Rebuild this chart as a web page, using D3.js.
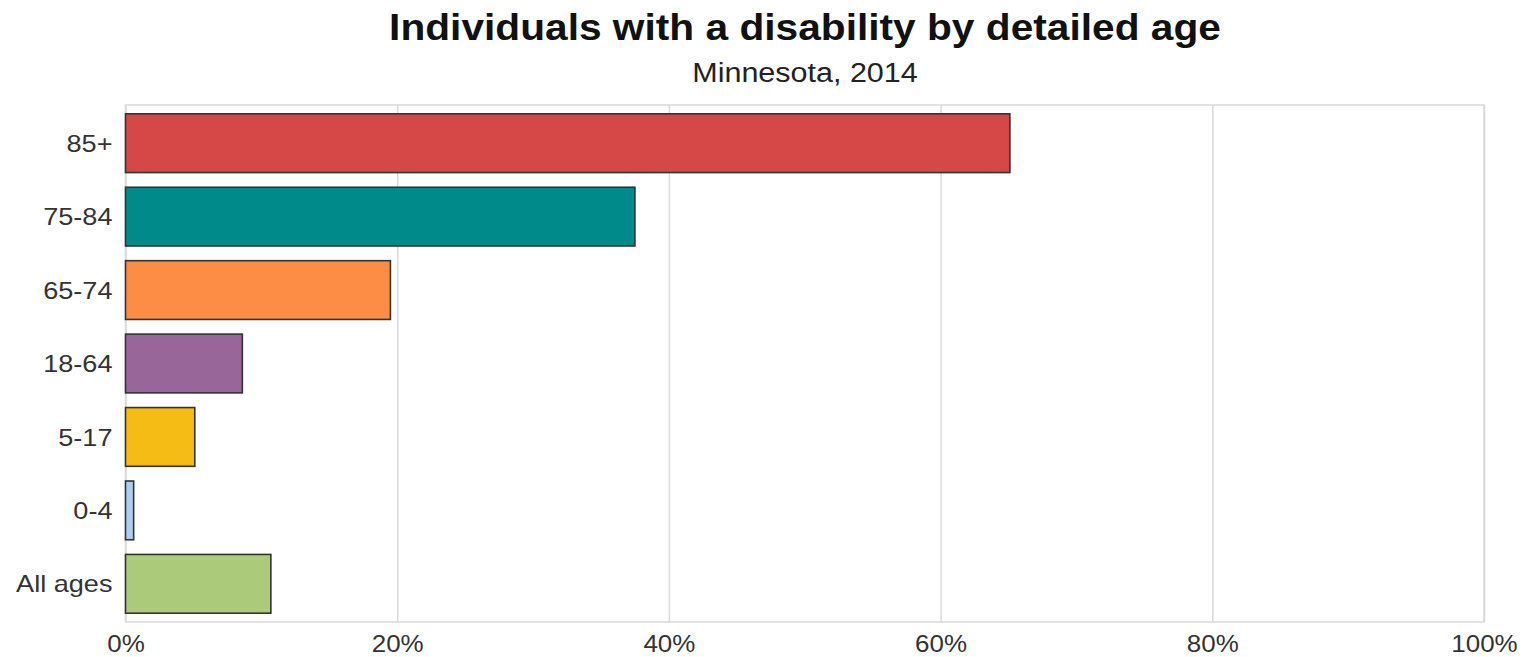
<!DOCTYPE html>
<html>
<head>
<meta charset="utf-8">
<script src="https://cdn.jsdelivr.net/npm/d3@7"></script>
<style>
  html, body { margin: 0; padding: 0; background: #fff; }
  svg { display: block; font-family: "Liberation Sans", Arial, sans-serif; }
</style>
</head>
<body>
<svg id="chart" width="1528" height="657"></svg>
<script>
// Share of individuals with a disability, by age group (percent)
const ageGroups = ["85+", "75-84", "65-74", "18-64", "5-17", "0-4", "All ages"];
const disabilityPct = [65.1, 37.5, 19.5, 8.6, 5.1, 0.6, 10.7];
const barColors = ["#d64848", "#008b8b", "#fd8c45", "#99669a", "#f5bc15", "#a9d0f2", "#abcb7b"];
const xTicks = [0, 20, 40, 60, 80, 100];
const titleText = "Individuals with a disability by detailed age";
const subtitleText = "Minnesota, 2014";

const rows = ageGroups.map((g, i) => ({ group: g, value: disabilityPct[i], color: barColors[i] }));

const svg = d3.select("#chart");
const margin = { top: 105, right: 44, bottom: 35, left: 125.5 };
const W = 1528, H = 657;
const innerW = W - margin.left - margin.right;
const innerH = H - margin.top - margin.bottom;
const stretch = 1.13; // glyphs are drawn slightly wide

const x = d3.scaleLinear().domain([0, 100]).range([0, innerW]);
const y = d3.scaleBand().domain(ageGroups).range([0, innerH]).paddingInner(0.2).paddingOuter(0.12);

const g = svg.append("g").attr("transform", `translate(${margin.left},${margin.top})`);

// plot frame
g.append("rect")
  .attr("x", 0).attr("y", 0)
  .attr("width", innerW).attr("height", innerH)
  .attr("fill", "none").attr("stroke", "#d9d9d9").attr("stroke-width", 1.5);

// vertical gridlines + x axis labels
const xAxis = d3.axisBottom(x).tickValues(xTicks).tickSize(innerH).tickFormat(d => d + "%");
const xg = g.append("g").call(xAxis);
xg.select(".domain").remove();
xg.selectAll(".tick line").attr("stroke", "#d9d9d9").attr("stroke-width", 1.5);
xg.selectAll(".tick text")
  .attr("y", 0).attr("dy", 0)
  .attr("transform", `translate(0,${innerH + 30}) scale(${stretch},1)`)
  .attr("fill", "#333").style("font-size", "23px");

// y axis labels
const yAxis = d3.axisLeft(y).tickSize(0).tickPadding(0);
const yg = g.append("g").call(yAxis);
yg.select(".domain").remove();
yg.selectAll(".tick text")
  .attr("x", 0).attr("dy", "0.36em")
  .attr("transform", `translate(-13,0) scale(${stretch},1)`)
  .attr("fill", "#333").style("font-size", "24px");

// bars
g.append("g").selectAll("rect")
  .data(rows)
  .join("rect")
  .attr("x", x(0))
  .attr("y", d => y(d.group))
  .attr("width", d => x(d.value) - x(0))
  .attr("height", y.bandwidth())
  .attr("fill", d => d.color)
  .attr("stroke", "#333")
  .attr("stroke-width", 1.6);

// titles
svg.append("text")
  .attr("text-anchor", "middle")
  .attr("transform", `translate(805,39.5) scale(${stretch},1)`)
  .attr("fill", "#111")
  .style("font-size", "36px").style("font-weight", "bold")
  .text(titleText);

svg.append("text")
  .attr("text-anchor", "middle")
  .attr("transform", `translate(805,82) scale(${stretch},1)`)
  .attr("fill", "#222")
  .style("font-size", "27px")
  .text(subtitleText);
</script>
</body>
</html>
